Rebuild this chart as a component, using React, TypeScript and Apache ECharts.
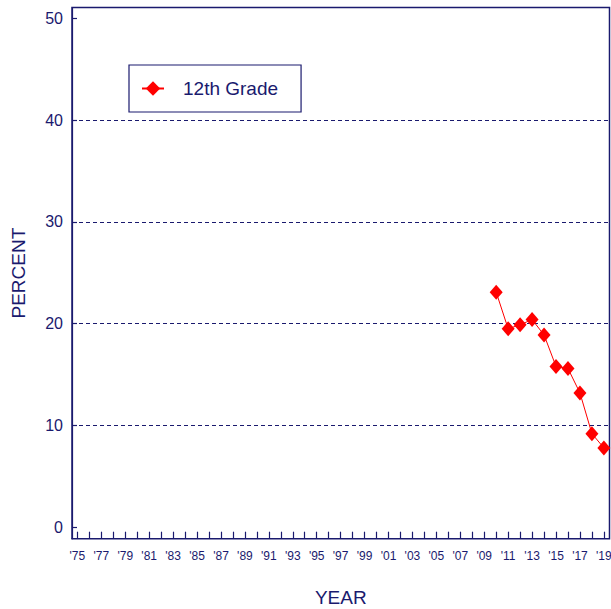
import React, { useEffect, useRef } from "react";
import * as echarts from "echarts";

const years: number[] = [2010, 2011, 2012, 2013, 2014, 2015, 2016, 2017, 2018, 2019];
const grade12: number[] = [23.1, 19.5, 19.9, 20.4, 18.9, 15.8, 15.6, 13.2, 9.2, 7.8];
const xTickYears: number[] = Array.from({ length: 45 }, (_, i) => 1975 + i);
const xLabelYears: number[] = Array.from({ length: 23 }, (_, i) => 1975 + i * 2);
const yTicks: number[] = [0, 10, 20, 30, 40, 50];
const gridValues: number[] = [10, 20, 30, 40];
const seriesName = "12th Grade";

const NAVY = "#1a1a6e";
const FONT = "'Liberation Sans', Arial, sans-serif";

export default function App() {
  const ref = useRef<HTMLDivElement>(null);
  useEffect(() => {
    if (!ref.current) return;
    const chart = echarts.init(ref.current, null, { renderer: "svg" });
    chart.setOption({
      animation: false,
      backgroundColor: "#ffffff",
      textStyle: { fontFamily: FONT },
      grid: {
        left: 72,
        top: 7.5,
        right: 1.5,
        bottom: 70.3,
        outerBoundsMode: "none",
        containLabel: false,
        show: true,
        borderColor: NAVY,
        borderWidth: 1.5,
        backgroundColor: "transparent",
      },
      legend: {
        left: 129,
        top: 65,
        orient: "horizontal",
        backgroundColor: "#ffffff",
        borderColor: NAVY,
        borderWidth: 1.2,
        borderRadius: 0,
        padding: [14, 23, 14, 12],
        itemWidth: 22,
        itemHeight: 18,
        formatter: "{a|{name}}",
        textStyle: {
          color: NAVY,
          fontFamily: FONT,
          fontSize: 19,
          rich: { a: { padding: [0, 0, 0, 14], fontSize: 19, color: NAVY, fontFamily: FONT } },
        },
        data: [seriesName],
      },
      xAxis: {
        type: "value",
        min: 1974.55,
        max: 2019.47,
        name: "YEAR",
        nameLocation: "middle",
        nameGap: 49,
        nameTextStyle: { color: NAVY, fontSize: 19, fontFamily: FONT },
        axisLine: { show: true, onZero: false, lineStyle: { color: NAVY, width: 1.2 } },
        axisTick: {
          show: true,
          inside: true,
          length: 7,
          lineStyle: { color: NAVY, width: 1.2 },
          customValues: xTickYears,
        },
        axisLabel: {
          show: true,
          color: NAVY,
          fontSize: 12,
          fontFamily: FONT,
          margin: 11,
          hideOverlap: false,
          customValues: xLabelYears,
          formatter: (v: number) => "'" + String(Math.round(v) % 100).padStart(2, "0"),
        },
        splitLine: { show: false },
      },
      yAxis: {
        type: "value",
        min: -1.12,
        max: 51.06,
        name: "PERCENT",
        nameLocation: "middle",
        nameGap: 44,
        nameRotate: 90,
        nameTextStyle: { color: NAVY, fontSize: 19, fontFamily: FONT },
        axisLine: { show: true, onZero: false, lineStyle: { color: NAVY, width: 1.2 } },
        axisTick: {
          show: true,
          inside: true,
          length: 5,
          lineStyle: { color: NAVY, width: 1.2 },
          customValues: yTicks,
        },
        axisLabel: {
          show: true,
          color: NAVY,
          fontSize: 16,
          fontFamily: FONT,
          margin: 9,
          customValues: yTicks,
        },
        splitLine: { show: false },
      },
      series: [
        {
          name: seriesName,
          type: "line",
          data: years.map((y, i) => [y, grade12[i]]),
          symbol: "diamond",
          symbolSize: [13, 15],
          itemStyle: { color: "#ff0000" },
          lineStyle: { color: "#ff0000", width: 1 },
          z: 5,
          markLine: {
            silent: true,
            symbol: ["none", "none"],
            label: { show: false },
            lineStyle: { color: NAVY, type: [4, 3], width: 1 },
            data: gridValues.map((v) => ({ yAxis: v })),
            z: 1,
          },
        },
      ],
    });
    return () => chart.dispose();
  }, []);
  return (
    <div
      ref={ref}
      style={{ position: "absolute", left: 0, top: 0, width: 611, height: 609 }}
    />
  );
}
